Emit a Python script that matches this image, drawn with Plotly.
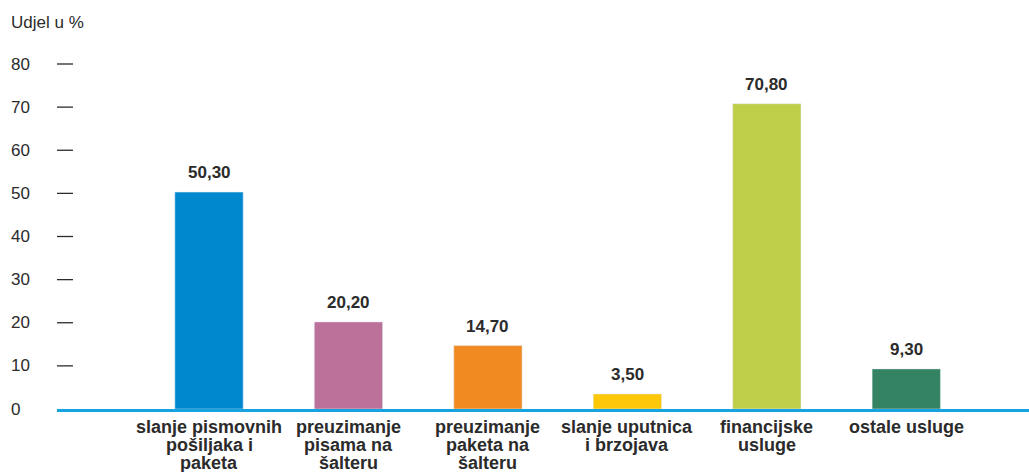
import plotly.graph_objects as go

categories = ["slanje pismovnih<br>pošiljaka i<br>paketa",
              "preuzimanje<br>pisama na<br>šalteru",
              "preuzimanje<br>paketa na<br>šalteru",
              "slanje uputnica<br>i brzojava",
              "financijske<br>usluge",
              "ostale usluge"]
values = [50.3, 20.2, 14.7, 3.5, 70.8, 9.3]
colors = ["#0088cf", "#bb7199", "#f28a22", "#fdc80a", "#bfce48", "#348363"]
y_ticks = [0, 10, 20, 30, 40, 50, 60, 70, 80]
y_title = "Udjel u %"

FONT = "Liberation Sans, Arial, sans-serif"
TXT = "#2b2b2b"
Y_MAX = 80

xs = list(range(len(categories)))
fig = go.Figure()
fig.add_trace(go.Bar(
    x=xs, y=values, marker_color=colors, width=0.49,
    cliponaxis=False, hoverinfo="skip"))

fig.update_layout(
    width=1029, height=472,
    margin=dict(l=57, r=0, t=64, b=63),
    paper_bgcolor="white", plot_bgcolor="white",
    showlegend=False,
    font=dict(family=FONT, size=17, color=TXT),
)
fig.update_xaxes(
    range=[-1.09, 5.88], tickmode="array", tickvals=xs,
    showticklabels=False,
    showline=True, linecolor="#17a2e0", linewidth=3,
    showgrid=False, zeroline=False, ticks="")
fig.update_yaxes(
    range=[0, Y_MAX], tickmode="array", tickvals=y_ticks,
    showticklabels=False, ticks="", showgrid=False, zeroline=False, showline=False)

# dash marks next to tick labels (none at 0, where the baseline is)
for t in y_ticks:
    if t == 0:
        continue
    fig.add_shape(type="line", xref="paper", yref="paper", x0=0, x1=16 / 972,
                  y0=t / Y_MAX, y1=t / Y_MAX, line=dict(color=TXT, width=1.3))

# value labels
for x, v in zip(xs, values):
    fig.add_annotation(x=x, y=v, text="<b>" + f"{v:.2f}".replace(".", ",") + "</b>",
                       showarrow=False, yanchor="bottom", yshift=8,
                       font=dict(family=FONT, size=17, color=TXT))

# category labels (line by line for tight spacing)
for x, c in zip(xs, categories):
    for i, line in enumerate(c.split("<br>")):
        fig.add_annotation(x=x, yref="paper", y=0, text="<b>" + line + "</b>",
                           showarrow=False, yanchor="middle",
                           yshift=-(18 + 18 * i),
                           font=dict(family=FONT, size=18, color=TXT))

# y tick labels, left aligned
for t in y_ticks:
    fig.add_annotation(xref="paper", yref="y", x=-0.049, y=t, text=str(t),
                       showarrow=False, xanchor="left", yanchor="middle",
                       font=dict(family=FONT, size=17, color=TXT))
fig.add_annotation(xref="paper", yref="paper", x=-0.049, y=1 + (64 - 22) / 345,
                   text=y_title, showarrow=False, xanchor="left", yanchor="middle",
                   font=dict(family=FONT, size=17, color=TXT))

fig.write_html("out.html", config={"displayModeBar": False},
               post_script="document.body.style.margin='0';")
